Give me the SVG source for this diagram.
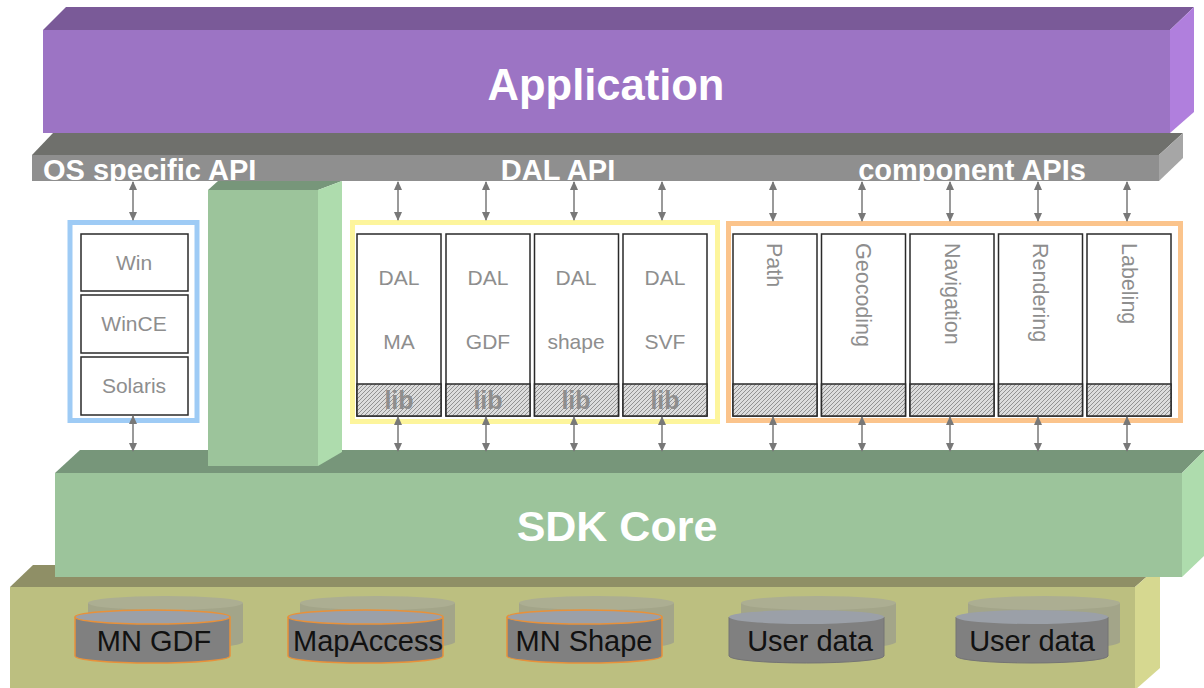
<svg xmlns="http://www.w3.org/2000/svg" width="1204" height="688" viewBox="0 0 1204 688">
  <defs>
    <style>
      .bigtxt { font-family: "Liberation Sans", Arial, sans-serif; font-weight: bold; fill: #ffffff; }
      .apitxt { font-family: "Liberation Sans", Arial, sans-serif; font-weight: bold; fill: #ffffff; font-size: 29px; }
      .boxtxt { font-family: "Liberation Sans", Arial, sans-serif; fill: #8e8e8e; font-size: 21px; text-anchor: middle; }
      .rottxt { font-family: "Liberation Sans", Arial, sans-serif; fill: #8e8e8e; font-size: 21.5px; }
      .libtxt { font-family: "Liberation Sans", Arial, sans-serif; font-weight: bold; fill: #8e8e8e; font-size: 25px; text-anchor: middle; }
      .dbtxt { font-family: "Liberation Sans", Arial, sans-serif; fill: #111111; font-size: 29px; text-anchor: middle; }
      .inner { fill: #ffffff; stroke: #2a2a2a; stroke-width: 1.5; }
      .hatch { fill: url(#hatch); stroke: #2a2a2a; stroke-width: 1.5; }
      .conn { stroke: #787878; stroke-width: 1.5; fill: none; marker-start: url(#arrow); marker-end: url(#arrow); }
      .dbbody { fill: #808080; }
      .dbtop { fill: #9ba0a8; }
      .dbedge { fill: none; stroke: #e8913a; stroke-width: 1.5; }
      .dbedge2 { fill: none; stroke: #747474; stroke-width: 1; }
      .shbody { fill: #a3a589; }
      .shtop { fill: #acae92; }
    </style>
    <pattern id="hatch" patternUnits="userSpaceOnUse" width="4" height="4">
      <rect width="4" height="4" fill="#dcdcdc"/>
      <path d="M-1,1 l2,-2 M0,4 l4,-4 M3,5 l2,-2" stroke="#8a8a8a" stroke-width="0.9"/>
    </pattern>
    <marker id="arrow" markerUnits="userSpaceOnUse" markerWidth="9" markerHeight="8" refX="8" refY="4" orient="auto-start-reverse">
      <path d="M0,0 L9,4 L0,8 z" fill="#787878"/>
    </marker>
    <clipPath id="barclip">
      <rect x="32" y="155" width="1127" height="26"/>
    </clipPath>
  </defs>

  <rect width="1204" height="688" fill="#ffffff"/>

  <!-- Storage layer -->
  <g id="storage">
    <polygon points="10,587 33,565 1160,565 1135,587" fill="#8f8f66"/>
    <polygon points="1135,587 1160,565 1160,668 1135,690" fill="#d6d890"/>
    <rect x="10" y="587" width="1125" height="101" fill="#bcbf80"/>
  </g>

  <!-- SDK core -->
  <g id="sdk-core">
    <polygon points="55,473 80,450 1205,450 1182,473" fill="#77967a"/>
    <polygon points="1182,473 1205,450 1205,555 1182,577" fill="#aedcad"/>
    <rect x="55" y="473" width="1127" height="104" fill="#9cc49b"/>
    <text class="bigtxt" x="617" y="541" font-size="43" text-anchor="middle">SDK Core</text>
  </g>

  <!-- Vertical pillar -->
  <g id="pillar">
    <polygon points="208,190 218,181 342,181 318,190" fill="#77967a"/>
    <polygon points="318,190 342,181 342,452 318,466" fill="#aedcad"/>
    <rect x="208" y="190" width="110" height="276" fill="#9cc49b"/>
  </g>

  <!-- Application -->
  <g id="application">
    <polygon points="43,30 66,7 1194,7 1170,30" fill="#7a5a98"/>
    <polygon points="1170,30 1194,7 1194,112 1170,133" fill="#b07fdd"/>
    <rect x="43" y="30" width="1127" height="103" fill="#9c74c4"/>
    <text class="bigtxt" x="606" y="100" font-size="43.5" text-anchor="middle">Application</text>
  </g>

  <!-- API bar -->
  <g id="api-bar">
    <polygon points="32,155 53,133 1183,133 1159,155" fill="#6f706c"/>
    <polygon points="1159,155 1183,133 1183,158 1159,181" fill="#a6a6a6"/>
    <rect x="32" y="155" width="1127" height="26" fill="#8f8f8f"/>
    <g clip-path="url(#barclip)">
      <text class="apitxt" x="43" y="180">OS specific API</text>
      <text class="apitxt" x="558" y="180" text-anchor="middle">DAL API</text>
      <text class="apitxt" x="972" y="180" text-anchor="middle">component APIs</text>
    </g>
  </g>

  <!-- OS layer -->
  <g id="os-group">
    <rect x="70" y="222.5" width="127" height="198" fill="#ffffff" stroke="#9ecbf5" stroke-width="5"/>
    <rect class="inner" x="81" y="234" width="107" height="57"/>
    <text class="boxtxt" x="134" y="270">Win</text>
    <rect class="inner" x="81" y="295" width="107" height="58"/>
    <text class="boxtxt" x="134" y="331">WinCE</text>
    <rect class="inner" x="81" y="357" width="107" height="58"/>
    <text class="boxtxt" x="134" y="393">Solaris</text>
  </g>

  <!-- DAL layer -->
  <g id="dal-group">
    <rect x="352.5" y="222.5" width="365" height="199" fill="#ffffff" stroke="#fdf59c" stroke-width="5"/>
    <g id="dal-ma">
      <rect class="inner" x="357" y="234" width="84" height="182"/>
      <rect class="hatch" x="357" y="384" width="84" height="32"/>
      <text class="boxtxt" x="399" y="285">DAL</text>
      <text class="boxtxt" x="399" y="349">MA</text>
      <text class="libtxt" x="399" y="409">lib</text>
    </g>
    <g id="dal-gdf">
      <rect class="inner" x="446" y="234" width="84" height="182"/>
      <rect class="hatch" x="446" y="384" width="84" height="32"/>
      <text class="boxtxt" x="488" y="285">DAL</text>
      <text class="boxtxt" x="488" y="349">GDF</text>
      <text class="libtxt" x="488" y="409">lib</text>
    </g>
    <g id="dal-shape">
      <rect class="inner" x="534.5" y="234" width="84" height="182"/>
      <rect class="hatch" x="534.5" y="384" width="84" height="32"/>
      <text class="boxtxt" x="576" y="285">DAL</text>
      <text class="boxtxt" x="576" y="349">shape</text>
      <text class="libtxt" x="576" y="409">lib</text>
    </g>
    <g id="dal-svf">
      <rect class="inner" x="623" y="234" width="84" height="182"/>
      <rect class="hatch" x="623" y="384" width="84" height="32"/>
      <text class="boxtxt" x="665" y="285">DAL</text>
      <text class="boxtxt" x="665" y="349">SVF</text>
      <text class="libtxt" x="665" y="409">lib</text>
    </g>
  </g>

  <!-- Component layer -->
  <g id="component-group">
    <rect x="728.5" y="223.5" width="452" height="197" fill="#ffffff" stroke="#fbc48c" stroke-width="5"/>
    <g id="comp-path">
      <rect class="inner" x="733" y="234" width="84" height="182"/>
      <rect class="hatch" x="733" y="384" width="84" height="32"/>
      <text class="rottxt" transform="translate(767,243) rotate(90)">Path</text>
    </g>
    <g id="comp-geocoding">
      <rect class="inner" x="821.5" y="234" width="84" height="182"/>
      <rect class="hatch" x="821.5" y="384" width="84" height="32"/>
      <text class="rottxt" transform="translate(856,243) rotate(90)">Geocoding</text>
    </g>
    <g id="comp-navigation">
      <rect class="inner" x="910" y="234" width="84" height="182"/>
      <rect class="hatch" x="910" y="384" width="84" height="32"/>
      <text class="rottxt" transform="translate(944.5,243) rotate(90)">Navigation</text>
    </g>
    <g id="comp-rendering">
      <rect class="inner" x="998.5" y="234" width="84" height="182"/>
      <rect class="hatch" x="998.5" y="384" width="84" height="32"/>
      <text class="rottxt" transform="translate(1033,243) rotate(90)">Rendering</text>
    </g>
    <g id="comp-labeling">
      <rect class="inner" x="1087" y="234" width="84" height="182"/>
      <rect class="hatch" x="1087" y="384" width="84" height="32"/>
      <text class="rottxt" transform="translate(1121.5,243) rotate(90)">Labeling</text>
    </g>
  </g>

  <!-- Connectors -->
  <g id="connectors">
    <line class="conn" x1="133" y1="182" x2="133" y2="220"/>
    <line class="conn" x1="398" y1="182" x2="398" y2="220"/>
    <line class="conn" x1="486" y1="182" x2="486" y2="220"/>
    <line class="conn" x1="574" y1="182" x2="574" y2="220"/>
    <line class="conn" x1="662" y1="182" x2="662" y2="220"/>
    <line class="conn" x1="773" y1="182" x2="773" y2="221"/>
    <line class="conn" x1="862" y1="182" x2="862" y2="221"/>
    <line class="conn" x1="950" y1="182" x2="950" y2="221"/>
    <line class="conn" x1="1038" y1="182" x2="1038" y2="221"/>
    <line class="conn" x1="1127" y1="182" x2="1127" y2="221"/>

    <line class="conn" x1="133" y1="416" x2="133" y2="451"/>
    <line class="conn" x1="398" y1="417" x2="398" y2="451"/>
    <line class="conn" x1="486" y1="417" x2="486" y2="451"/>
    <line class="conn" x1="574" y1="417" x2="574" y2="451"/>
    <line class="conn" x1="662" y1="417" x2="662" y2="451"/>
    <line class="conn" x1="773" y1="417" x2="773" y2="451"/>
    <line class="conn" x1="862" y1="417" x2="862" y2="451"/>
    <line class="conn" x1="950" y1="417" x2="950" y2="451"/>
    <line class="conn" x1="1038" y1="417" x2="1038" y2="451"/>
    <line class="conn" x1="1127" y1="417" x2="1127" y2="451"/>
  </g>

  <!-- Data stores -->
  <g id="db-mngdf">
    <path class="shbody" d="M88,603 V642 A77.5,7 0 0 0 243,642 V603 Z"/>
    <ellipse class="shtop" cx="165.5" cy="603" rx="77.5" ry="7"/>
    <path class="dbbody" d="M75,617 V656 A77.5,7 0 0 0 230,656 V617 Z"/>
    <path class="dbedge" d="M75,617 V656 A77.5,7 0 0 0 230,656 V617"/>
    <ellipse class="dbtop" cx="152.5" cy="617" rx="77.5" ry="7"/>
    <ellipse class="dbedge" cx="152.5" cy="617" rx="77.5" ry="7"/>
    <text class="dbtxt" x="154" y="651">MN GDF</text>
  </g>
  <g id="db-mapaccess">
    <path class="shbody" d="M300,603 V642 A77.5,7 0 0 0 455,642 V603 Z"/>
    <ellipse class="shtop" cx="377.5" cy="603" rx="77.5" ry="7"/>
    <path class="dbbody" d="M288,617 V656 A77.5,7 0 0 0 443,656 V617 Z"/>
    <path class="dbedge" d="M288,617 V656 A77.5,7 0 0 0 443,656 V617"/>
    <ellipse class="dbtop" cx="365.5" cy="617" rx="77.5" ry="7"/>
    <ellipse class="dbedge" cx="365.5" cy="617" rx="77.5" ry="7"/>
    <text class="dbtxt" x="368" y="651" textLength="150" lengthAdjust="spacingAndGlyphs">MapAccess</text>
  </g>
  <g id="db-mnshape">
    <path class="shbody" d="M519,603 V642 A77.5,7 0 0 0 674,642 V603 Z"/>
    <ellipse class="shtop" cx="596.5" cy="603" rx="77.5" ry="7"/>
    <path class="dbbody" d="M507,617 V656 A77.5,7 0 0 0 662,656 V617 Z"/>
    <path class="dbedge" d="M507,617 V656 A77.5,7 0 0 0 662,656 V617"/>
    <ellipse class="dbtop" cx="584.5" cy="617" rx="77.5" ry="7"/>
    <ellipse class="dbedge" cx="584.5" cy="617" rx="77.5" ry="7"/>
    <text class="dbtxt" x="584" y="651">MN Shape</text>
  </g>
  <g id="db-userdata-1">
    <path class="shbody" d="M741,603 V642 A77.5,7 0 0 0 896,642 V603 Z"/>
    <ellipse class="shtop" cx="818.5" cy="603" rx="77.5" ry="7"/>
    <path class="dbbody" d="M729,617 V656 A77.5,7 0 0 0 884,656 V617 Z"/>
    <path class="dbedge2" d="M729,617 V656 A77.5,7 0 0 0 884,656 V617"/>
    <ellipse class="dbtop" cx="806.5" cy="617" rx="77.5" ry="7"/>
    <text class="dbtxt" x="810" y="651">User data</text>
  </g>
  <g id="db-userdata-2">
    <path class="shbody" d="M968,603 V642 A76,7 0 0 0 1120,642 V603 Z"/>
    <ellipse class="shtop" cx="1044" cy="603" rx="76" ry="7"/>
    <path class="dbbody" d="M956,617 V656 A76,7 0 0 0 1108,656 V617 Z"/>
    <path class="dbedge2" d="M956,617 V656 A76,7 0 0 0 1108,656 V617"/>
    <ellipse class="dbtop" cx="1032" cy="617" rx="76" ry="7"/>
    <text class="dbtxt" x="1032" y="651">User data</text>
  </g>
</svg>
